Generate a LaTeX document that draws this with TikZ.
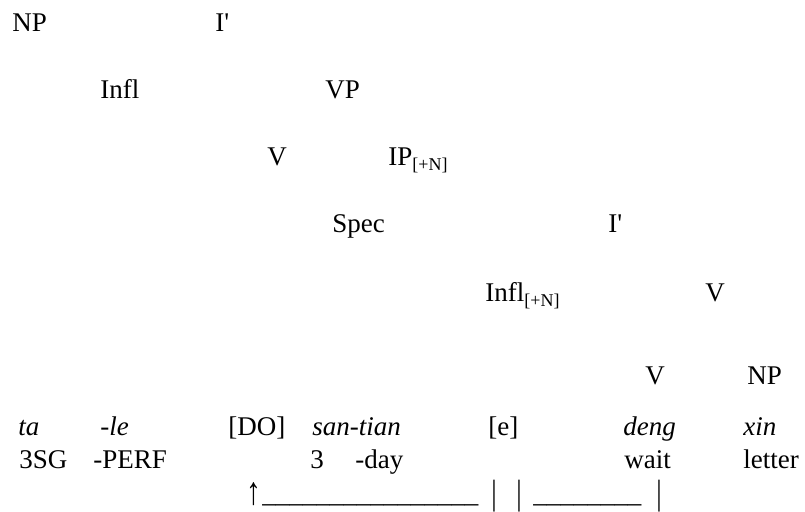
\documentclass[tikz,border=0pt]{standalone}
\usepackage{fontspec}
\setmainfont{Liberation Serif}
\usetikzlibrary{positioning}

\tikzset{lbl/.style={anchor=base west,inner sep=0pt}}
\newcommand{\featN}{\raisebox{-2.2pt}{\fontsize{9}{10}\selectfont[+N]}}
\newcommand{\tallbar}{\raisebox{-1pt}{\scalebox{1}[1.3]{|}}}

\begin{document}
\begin{tikzpicture}[x=0.5pt,y=-0.5pt,font=\fontsize{13.5}{16}\selectfont]
    \useasboundingbox (0,0) rectangle (805,512);
    %%%%%%%%% tree labels
    \node[lbl] (np) at (12,32) {NP};
    \node[lbl] (ib) at (215,32) {I\textquotesingle};
        \node[lbl] (infl) at (100,99) {Infl};
        \node[lbl] (vp) at (325,99) {VP};
        \node[lbl] (v) at (267,166) {V};
        \node[lbl] (ip) at (388,166) {IP\featN};
        \node[lbl] (spec) at (332,233) {Spec};
        \node[lbl] (ib2) at (608,233) {I\textquotesingle};
        \node[lbl] (infln) at (485,302) {Infl\featN};
        \node[lbl] (v2) at (705,302) {V};
        \node[lbl] (v3) at (645,385) {V};
        \node[lbl] (np2) at (747,385) {NP};
    %%%%%%%%% words
    \node[lbl] (ta) at (18,436) {\textit{ta}};
    \node[lbl] (le) at (100,436) {\textit{-le}};
    \node[lbl] (do) at (228,436) {[DO]};
    \node[lbl] (santian) at (312,436) {\textit{san-tian}};
    \node[lbl] (e) at (488,436) {[e]};
    \node[lbl] (deng) at (623,436) {\textit{deng}};
    \node[lbl] (xin) at (743,436) {\textit{xin}};
    %%%%%%%%% glosses
    \node[lbl] (g3sg) at (19,469) {3SG};
    \node[lbl] (gperf) at (93,469) {-PERF};
    \node[lbl] (g3) at (310,469) {3};
    \node[lbl] (gday) at (355,469) {-day};
    \node[lbl] (gwait) at (624,469) {wait};
    \node[lbl] (gletter) at (743,469) {letter};
    %%%%%%%%% link line
    \node[lbl] (arr) at (246,505) {\scalebox{1.1}[1.45]{↑}};
    \node[lbl] (lnA) at (262,503) {\_\_\_\_\_\_\_\_\_\_\_\_\_\_\_\_};
    \node[lbl] (barA) at (491,503) {\tallbar};
    \node[lbl] (barB) at (516,503) {\tallbar};
    \node[lbl] (lnB) at (533,503) {\_\_\_\_\_\_\_\_};
    \node[lbl] (barC) at (656,503) {\tallbar};
\end{tikzpicture}
\end{document}
